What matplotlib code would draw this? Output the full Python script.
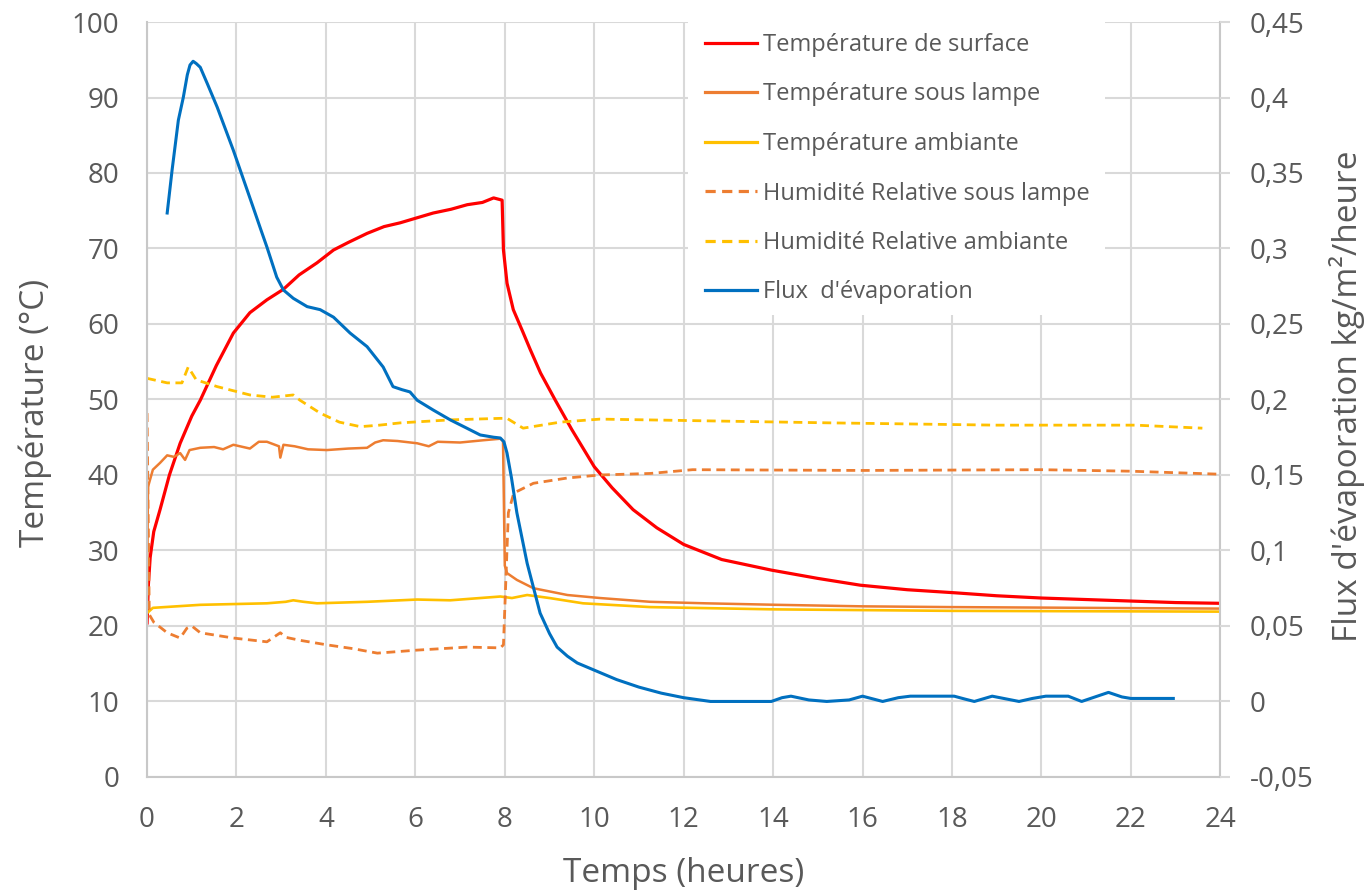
import matplotlib
matplotlib.use("Agg")
import matplotlib.pyplot as plt
from matplotlib.patches import Rectangle

plt.rcParams['font.family'] = ['Open Sans', 'DejaVu Sans']

# Température de surface (°C)
t_surf = [0, 0.03, 0.07, 0.15, 0.29, 0.5, 0.74, 1.0, 1.19, 1.55, 1.93, 2.3, 2.68, 3.05, 3.4,
          3.8, 4.17, 4.5, 4.92, 5.3, 5.66, 6.0, 6.4, 6.8, 7.16, 7.5, 7.75, 7.94, 7.97, 8.05,
          8.19, 8.4, 8.57, 8.8, 9.13, 9.5, 10.0, 10.4, 10.87, 11.4, 12.0, 12.85, 13.96, 15.0,
          15.95, 17.0, 18.05, 19.0, 20.0, 21.0, 22.0, 23.0, 24.0]
T_surf = [20.4, 25.5, 29.1, 32.5, 35.4, 40.0, 44.2, 47.8, 49.9, 54.5, 58.8, 61.5, 63.2, 64.6, 66.5,
          68.1, 69.8, 70.8, 72.0, 72.9, 73.4, 74.0, 74.7, 75.2, 75.8, 76.1, 76.7, 76.4, 69.8, 65.4,
          61.9, 59.0, 56.6, 53.5, 49.9, 46.0, 41.1, 38.3, 35.4, 33.0, 30.8, 28.8, 27.4, 26.3,
          25.4, 24.8, 24.4, 24.0, 23.7, 23.5, 23.3, 23.1, 23.0]

# Température sous lampe (°C)
t_lamp = [0, 0.02, 0.13, 0.29, 0.45, 0.6, 0.74, 0.85, 0.95, 1.19, 1.5, 1.7, 1.93, 2.3, 2.5, 2.68,
          2.95, 2.98, 3.05, 3.3, 3.6, 4.02, 4.5, 4.92, 5.1, 5.28, 5.6, 6.04, 6.3, 6.5, 7.0, 7.52,
          7.9, 7.96, 8.0, 8.05, 8.27, 8.64, 9.4, 10.13, 11.25, 12.5, 14.1, 16.0, 18.0, 21.0, 24.0]
T_lamp = [22.5, 38.4, 40.7, 41.6, 42.6, 42.4, 42.9, 42.0, 43.3, 43.6, 43.7, 43.4, 44.0, 43.5, 44.4,
          44.4, 43.8, 42.3, 44.0, 43.8, 43.4, 43.3, 43.5, 43.6, 44.3, 44.6, 44.5, 44.2, 43.8, 44.4,
          44.3, 44.6, 44.8, 44.5, 28.0, 27.0, 26.1, 25.0, 24.1, 23.7, 23.2, 23.0, 22.8, 22.6,
          22.5, 22.4, 22.3]

# Température ambiante (°C)
t_amb = [0, 0.13, 1.19, 2.68, 3.1, 3.27, 3.5, 3.8, 4.92, 6.04, 6.78, 7.9, 8.16, 8.5, 9.0,
         9.75, 11.25, 14.0, 18.0, 24.0]
T_amb = [21.7, 22.4, 22.8, 23.0, 23.2, 23.4, 23.2, 23.0, 23.2, 23.5, 23.4, 23.9, 23.7, 24.1, 23.7,
         23.0, 22.5, 22.2, 22.0, 21.9]

# Humidité Relative sous lampe (%)
t_hr_lamp = [0, 0.05, 0.15, 0.45, 0.74, 0.89, 1.0, 1.19, 1.93, 2.68, 2.98, 3.1, 3.42, 4.02,
             4.6, 5.15, 6.04, 7.16, 7.9, 7.97, 8.08, 8.2, 8.64, 9.4, 10.13, 11.25, 12.2, 16.0,
             20.0, 22.0, 24.0]
HR_lamp = [48.2, 21.5, 20.5, 19.1, 18.4, 19.7, 20.0, 19.1, 18.4, 17.9, 19.1, 18.5, 18.1, 17.5,
           17.0, 16.4, 16.8, 17.2, 17.1, 17.5, 35.0, 37.6, 38.9, 39.6, 40.0, 40.2, 40.7, 40.6,
           40.7, 40.5, 40.1]

# Humidité Relative ambiante (%)
t_hr_amb = [0, 0.45, 0.78, 0.92, 1.1, 1.57, 2.3, 2.8, 3.27, 3.42, 3.87, 4.3, 4.77, 5.2, 5.66,
            6.78, 7.9, 8.05, 8.41, 9.24, 10.13, 12.2, 15.3, 19.0, 22.1, 23.6]
HR_amb = [52.8, 52.2, 52.2, 54.3, 52.6, 51.7, 50.6, 50.3, 50.6, 49.9, 48.2, 47.0, 46.4, 46.6, 46.9,
          47.3, 47.5, 47.5, 46.2, 47.0, 47.4, 47.2, 46.9, 46.6, 46.6, 46.2]

# Flux d'évaporation (kg/m²/heure)
t_flux = [0.45, 0.56, 0.7, 0.81, 0.9, 0.96, 1.03, 1.1, 1.19, 1.35, 1.57, 1.93, 2.2, 2.37, 2.55,
          2.68, 2.9, 3.05, 3.27, 3.58, 3.87, 4.17, 4.54, 4.92, 5.28, 5.5, 5.7, 5.88, 6.04, 6.4,
          6.78, 7.15, 7.45, 7.75, 7.9, 7.98, 8.05, 8.15, 8.27, 8.5, 8.79, 9.0, 9.17, 9.4, 9.62,
          9.98, 10.5, 11.0, 11.5, 12.0, 12.6, 13.96, 14.2, 14.4, 14.8, 15.2, 15.7, 16.0, 16.45,
          16.8, 17.07, 18.05, 18.3, 18.5, 18.9, 19.5, 19.8, 20.1, 20.6, 20.9, 21.2, 21.5, 21.8,
          22.0, 22.95]
flux = [0.3235, 0.352, 0.385, 0.400, 0.415, 0.4215, 0.424, 0.4225, 0.420, 0.409, 0.3935, 0.365,
        0.342, 0.3275, 0.312, 0.301, 0.281, 0.2725, 0.267, 0.2615, 0.2595, 0.2545, 0.244, 0.235,
        0.2215, 0.2085, 0.2065, 0.205, 0.1995, 0.193, 0.1865, 0.181, 0.1765, 0.175, 0.1745,
        0.172, 0.1645, 0.148, 0.125, 0.0915, 0.0585, 0.045, 0.036, 0.030, 0.0255, 0.021, 0.0145,
        0.0095, 0.0055, 0.0025, 0.0, 0.0, 0.0025, 0.0035, 0.001, 0.0, 0.001, 0.0035, 0.0,
        0.0025, 0.0035, 0.0035, 0.0015, 0.0, 0.0035, 0.0, 0.002, 0.0035, 0.0035, 0.0, 0.003,
        0.006, 0.003, 0.002, 0.002]

x_ticks = list(range(0, 25, 2))
y_ticks = list(range(0, 101, 10))
flux_ticks = [-0.05, 0, 0.05, 0.1, 0.15, 0.2, 0.25, 0.3, 0.35, 0.4, 0.45]
flux_labels = ['-0,05', '0', '0,05', '0,1', '0,15', '0,2', '0,25', '0,3', '0,35', '0,4', '0,45']

gris = '#595959'
grille = '#D9D9D9'

fig = plt.figure(figsize=(13.68, 8.91), dpi=100)
ax = fig.add_axes([0.1075, 0.128, 0.7845, 0.8473])
ax2 = ax.twinx()

l1, = ax.plot(t_surf, T_surf, color='#FF0000', lw=2.3, label='Température de surface')
l2, = ax.plot(t_lamp, T_lamp, color='#ED7D31', lw=1.8, label='Température sous lampe')
l3, = ax.plot(t_amb, T_amb, color='#FFC000', lw=1.9, label='Température ambiante')
l4, = ax.plot(t_hr_lamp, HR_lamp, color='#ED7D31', lw=2.0, ls=(0, (3.2, 2.0)),
              label='Humidité Relative sous lampe')
l5, = ax.plot(t_hr_amb, HR_amb, color='#FFC000', lw=2.0, ls=(0, (3.2, 2.0)),
              label='Humidité Relative ambiante')
l6, = ax2.plot(t_flux, flux, color='#0070C0', lw=2.2, label="Flux  d'évaporation")

ax.set_xlim(0, 24)
ax.set_ylim(0, 100)
ax2.set_ylim(-0.05, 0.45)
ax.set_xticks(x_ticks)
ax.set_yticks(y_ticks)
ax2.set_yticks(flux_ticks)
ax2.set_yticklabels(flux_labels)

ax.set_axisbelow(True)
ax.grid(color=grille, lw=1.5)
ax.spines['top'].set_visible(False)
for s in ['left', 'right', 'bottom']:
    ax.spines[s].set_color('#C8C8C8')
    ax.spines[s].set_linewidth(1.5)
for s in ax2.spines.values():
    s.set_visible(False)

ax.tick_params(axis='both', length=0, labelsize=20, labelcolor=gris)
ax.tick_params(axis='y', pad=20)
ax.tick_params(axis='x', pad=21)
ax2.tick_params(axis='y', length=7, width=1.5, color=grille, labelsize=20,
                labelcolor=gris, pad=14)

ax.set_xlabel('Temps (heures)', fontsize=24, color=gris)
ax.set_ylabel('Température (°C)', fontsize=24, color=gris)
ax2.set_ylabel('Flux d\'évaporation kg/m²/heure', fontsize=24, color=gris)
ax.xaxis.label.set_va('center')
ax.yaxis.label.set_va('center')
ax2.yaxis.label.set_va('center')
ax.xaxis.set_label_coords(0.5, -0.1285)
ax.yaxis.set_label_coords(-0.104, 0.482)
ax2.yaxis.set_label_coords(1.118, 0.504)

# fond blanc de la légende (cache la grille)
ax.add_patch(Rectangle((12.1, 61.2), 21.43 - 12.1, 41, facecolor='white',
                       edgecolor='none', zorder=1, clip_on=False))

handles = [l1, l2, l3, l4, l5, l6]
leg = ax2.legend(handles, [h.get_label() for h in handles],
                 loc='upper left', bbox_to_anchor=(705 / 1368, 1 - 33 / 891),
                 bbox_transform=fig.transFigure, frameon=False, fontsize=17,
                 labelcolor=gris, handlelength=2.2, handletextpad=0.25, labelspacing=1.08,
                 borderpad=0, borderaxespad=0)
for h in leg.get_lines():
    h.set_linewidth(2.3)

plt.savefig('out.png', dpi=100)
